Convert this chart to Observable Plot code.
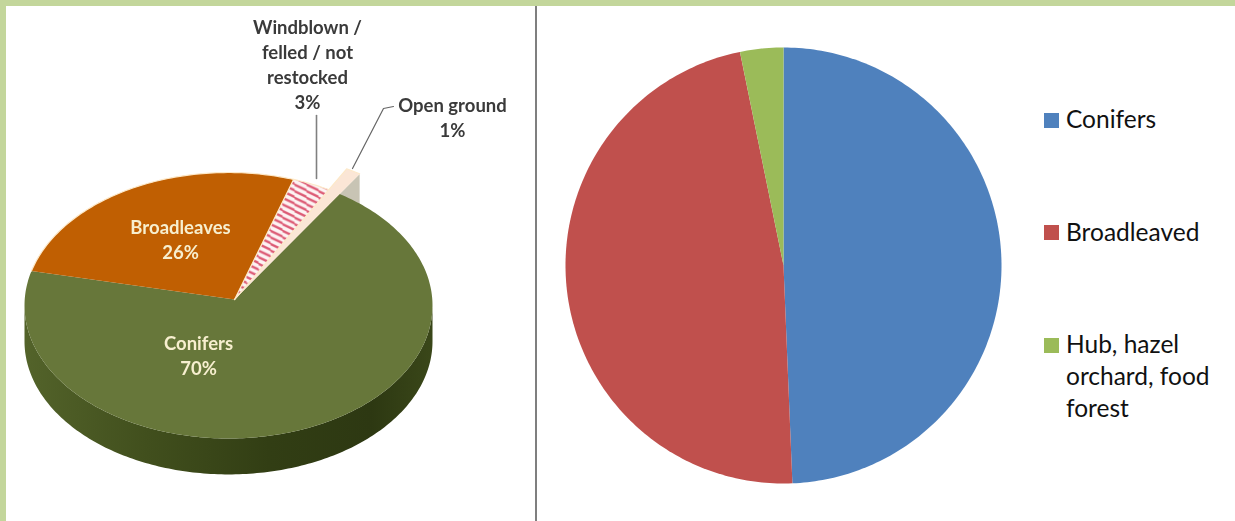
<!DOCTYPE html>
<html>
<head>
<meta charset="utf-8">
<script src="https://cdn.jsdelivr.net/npm/d3@7"></script>
<script src="https://cdn.jsdelivr.net/npm/@observablehq/plot@0.6"></script>
<style>
  html, body { margin: 0; padding: 0; width: 1235px; height: 521px; overflow: hidden; background: #c3d69b; }
  #left { position: absolute; left: 6px; top: 6px; width: 529px; height: 515px; background: #fff; overflow: hidden; }
  #right { position: absolute; left: 537px; top: 6px; width: 698px; height: 515px; background: #fff; overflow: hidden; }
  #rule { position: absolute; left: 535px; top: 6px; width: 2px; height: 515px; background: #7f7f7f; }
  #left svg { filter: blur(0.5px); }
  svg { display: block; }
</style>
</head>
<body>
<div id="left"></div>
<div id="rule"></div>
<div id="right"></div>
<script>
// Left chart: land cover shares (%)
const leftCategories = ["Conifers", "Broadleaves", "Windblown / felled / not restocked", "Open ground"];
const leftValues = [70, 26, 3, 1];
const leftLabels = ["Conifers\n70%", "Broadleaves\n26%", "Windblown /\nfelled / not\nrestocked\n3%", "Open ground\n1%"];
// Right chart: proposed shares (%)
const rightCategories = ["Conifers", "Broadleaved", "Hub, hazel\norchard, food\nforest"];
const rightValues = [49.35, 47.45, 3.2];

// Styles and placement, kept apart from the data
const leftColors = ["#67773a", "#c05f02", "url(#hatch)", "#fbe6d6"];
const rightColors = ["#4f81bd", "#c0504d", "#9bbb59"];
const leftStart = 33, depth = 0.27, explode = 1.18;
const apex = [0.03, 0.045];
const LP = {cx: 228, cy: 305, rx: 204, ry: 133};
const RP = {cx: 783, cy: 265, r: 218};
const lu = (px) => (px - LP.cx) / LP.rx, lv = (py) => (LP.cy - py) / LP.ry;
const ru = (px) => (px - RP.cx) / RP.r, rv = (py) => (RP.cy - py) / RP.r;
const labelPos = [[198, 354], [180, 238], [307, 63], [452, 116]];
const legendPos = [[1065.5, 105], [1065.5, 218], [1065.5, 330]];
const swatchTop = [113, 225, 338];
const font = "Lato, 'Open Sans', sans-serif";

const rad = (d) => d * Math.PI / 180;
const on = (a, k = 1, drop = 0) => ({x: k * Math.sin(rad(a)), y: k * Math.cos(rad(a)) - drop});
function arc(a0, a1, k = 1, drop = 0) {
  const pts = [], n = Math.max(2, Math.ceil(Math.abs(a1 - a0)));
  for (let i = 0; i <= n; i++) pts.push(on(a0 + (a1 - a0) * i / n, k, drop));
  return pts;
}
function spans(values, start) {
  let a = start;
  return values.map((v) => { const s = a; a += v * 3.6; return [s, a]; });
}
function sector([a0, a1], k = 1, c = [0, 0]) {
  return [{x: c[0], y: c[1]}, ...arc(a0, a1, k)];
}

// ---------- left chart ----------
const lSpans = spans(leftValues, leftStart);
const defs = () => {
  const d = d3.create("svg:defs");
  const p = d.append("pattern").attr("id", "hatch").attr("patternUnits", "userSpaceOnUse")
    .attr("width", 12).attr("height", 6.6);
  p.append("rect").attr("width", 12).attr("height", 6.6).attr("fill", "#fdf3f3");
  p.append("path").attr("d", "M-1,-0.55 L13,6.05 M-1,6.05 L13,12.65 M-1,-7.15 L13,-0.55").attr("stroke", "#dc5a74").attr("stroke-width", 2.4);
  const g = d.append("linearGradient").attr("id", "wall");
  [[0, "#53632a"], [0.3, "#414f1d"], [0.6, "#323e14"], [0.85, "#2d3812"], [1, "#3a4719"]]
    .forEach(([o, c]) => g.append("stop").attr("offset", o).attr("stop-color", c));
  return d.node();
};
const openEnd = lSpans[3][1];
const openWall = [on(openEnd, explode), on(openEnd, explode, depth), {x: apex[0], y: apex[1] - depth}, {x: apex[0], y: apex[1]}];
const coniferWall = [...arc(90, 270), ...arc(270, 90, 1, depth)];
const sliceMarks = leftColors.map((c, i) => Plot.line(
  sector(lSpans[i], i === 3 ? explode : 1, apex),
  {x: "x", y: "y", fill: c, stroke: i < 2 ? "none" : "#fde9c9", strokeWidth: i < 2 ? 0 : 1.2, strokeLinejoin: "round"}
));
const leftPlot = Plot.plot({
  width: 529, height: 515, margin: 0,
  style: {background: "transparent", overflow: "visible"},
  x: {domain: [-1, 1], range: [LP.cx - LP.rx - 6, LP.cx + LP.rx - 6], axis: null},
  y: {domain: [1, -1], range: [LP.cy - LP.ry - 6, LP.cy + LP.ry - 6], axis: null},
  marks: [
    defs,
    Plot.line(openWall, {x: "x", y: "y", fill: "#c8c4b4", stroke: "none"}),
    Plot.line(coniferWall, {x: "x", y: "y", fill: "url(#wall)", stroke: "none"}),
    ...sliceMarks,
    Plot.line(arc(lSpans[1][0], lSpans[1][1]), {x: "x", y: "y", stroke: "#fde9c9", strokeWidth: 1.2}),
    Plot.line([{x: lu(316), y: lv(115)}, {x: lu(316), y: lv(178)}], {x: "x", y: "y", stroke: "#808080", strokeWidth: 1.6}),
    Plot.line([{x: lu(393), y: lv(106)}, {x: lu(383), y: lv(108)}, {x: lu(352), y: lv(168)}], {x: "x", y: "y", stroke: "#666", strokeWidth: 1.2}),
    Plot.text(leftLabels, {
      x: (d, i) => lu(labelPos[i][0]), y: (d, i) => lv(labelPos[i][1]), text: (d) => d,
      fill: (d, i) => i < 2 ? "#f7efcf" : "#3a3a3a",
      fontFamily: font, fontWeight: 700, fontSize: 18.5, lineHeight: 1.34, lineAnchor: "middle", textAnchor: "middle"
    })
  ]
});
document.getElementById("left").append(leftPlot);

// ---------- right chart ----------
const rSpans = spans(rightValues, 0);
const rightData = rSpans.flatMap((s, i) => sector(s).map((p) => ({...p, c: rightCategories[i]})));
const rightPlot = Plot.plot({
  width: 698, height: 515, margin: 0,
  style: {background: "transparent", overflow: "visible"},
  x: {domain: [-1, 1], range: [RP.cx - RP.r - 537, RP.cx + RP.r - 537], axis: null},
  y: {domain: [1, -1], range: [RP.cy - RP.r - 6, RP.cy + RP.r - 6], axis: null},
  color: {domain: rightCategories, range: rightColors},
  marks: [
    Plot.line(rightData, {x: "x", y: "y", fill: "c", stroke: "none"}),
    Plot.rect(rightCategories, {
      x1: () => ru(1044), x2: () => ru(1059),
      y1: (d, i) => rv(swatchTop[i]), y2: (d, i) => rv(swatchTop[i] + 15),
      fill: (d) => d
    }),
    Plot.text(rightCategories, {
      x: (d, i) => ru(legendPos[i][0]), y: (d, i) => rv(legendPos[i][1]), text: (d) => d,
      textAnchor: "start", lineAnchor: "top", fill: "#111", fontFamily: font, fontSize: 24.5, lineHeight: 1.31
    })
  ]
});
document.getElementById("right").append(rightPlot);
</script>
</body>
</html>
